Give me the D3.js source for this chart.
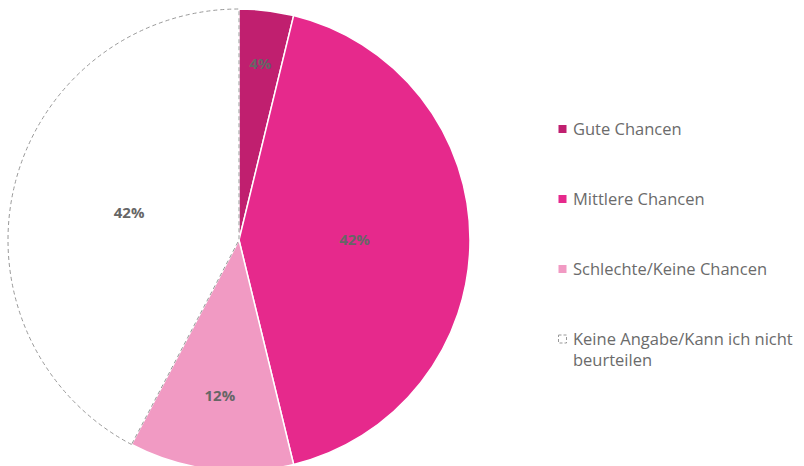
<!DOCTYPE html>
<html>
<head>
<meta charset="utf-8">
<script src="https://cdn.jsdelivr.net/npm/d3@7"></script>
<style>
  body { margin: 0; background: #fff; }
  text { font-family: "Open Sans", "Liberation Sans", sans-serif; }
</style>
</head>
<body>
<div id="chart"></div>
<script>
// Data
var categories = ["Gute Chancen", "Mittlere Chancen", "Schlechte/Keine Chancen", "Keine Angabe/Kann ich nicht beurteilen"],
  values = [3.8, 42.4, 11.5, 42.3],
  colors = ["#c01f6f", "#e6298c", "#f19ac3", "#ffffff"],
  labelPos = [0.77, 0.5, 0.68, 0.49]; // label distance as fraction of radius

// Placement
var width = 804,
  height = 466,
  cx = 239,
  cy = 240,
  r = 231;

var svg = d3.select("#chart")
  .append("svg")
  .attr("width", width)
  .attr("height", height);

var pie = d3.pie().sort(null).value(function(d) { return d; });
var arcs = pie(values);

var arc = d3.arc().innerRadius(0).outerRadius(r);

var g = svg.append("g")
  .attr("transform", "translate(" + cx + "," + cy + ")");

g.selectAll("path.slice")
  .data(arcs)
  .enter().append("path")
  .attr("class", "slice")
  .attr("d", arc)
  .attr("fill", function(d, i) { return colors[i]; })
  .attr("stroke", function(d, i) { return i == 3 ? "#999" : "#fff"; })
  .attr("stroke-width", function(d, i) { return i == 3 ? 1 : 1.5; })
  .attr("stroke-dasharray", function(d, i) { return i == 3 ? "4,3" : null; });

// labels
g.selectAll("text.lbl")
  .data(arcs)
  .enter().append("text")
  .attr("class", "lbl")
  .attr("transform", function(d, i) {
    var a = d3.arc().innerRadius(0).outerRadius(2 * r * labelPos[i]);
    return "translate(" + a.centroid(d) + ")";
  })
  .attr("text-anchor", "middle")
  .attr("dy", "0.35em")
  .attr("font-size", 15)
  .attr("font-weight", "bold")
  .attr("fill", "#666")
  .text(function(d) { return Math.round(d.data) + "%"; });

// legend
var legend = svg.append("g")
  .attr("transform", "translate(558,129)");

var item = legend.selectAll("g.item")
  .data(categories)
  .enter().append("g")
  .attr("class", "item")
  .attr("transform", function(d, i) { return "translate(0," + (i * 70) + ")"; });

item.append("rect")
  .attr("x", 0.5)
  .attr("y", -4)
  .attr("width", 8)
  .attr("height", 8)
  .attr("fill", function(d, i) { return colors[i]; })
  .attr("stroke", function(d, i) { return i == 3 ? "#999" : "none"; })
  .attr("stroke-dasharray", function(d, i) { return i == 3 ? "3,2" : null; });

item.append("text")
  .attr("x", 15)
  .attr("dy", "0.35em")
  .attr("font-size", 16.5)
  .attr("fill", "#6b6b6b")
  .each(function(d) {
    var t = d3.select(this);
    if (d.indexOf("nicht") > -1) {
      var parts = ["Keine Angabe/Kann ich nicht", "beurteilen"];
      parts.forEach(function(p, k) {
        t.append("tspan").attr("x", 15).attr("dy", k == 0 ? "0.35em" : "1.3em").text(p);
      });
      t.attr("dy", null);
    } else {
      t.text(d);
    }
  });
</script>
</body>
</html>
